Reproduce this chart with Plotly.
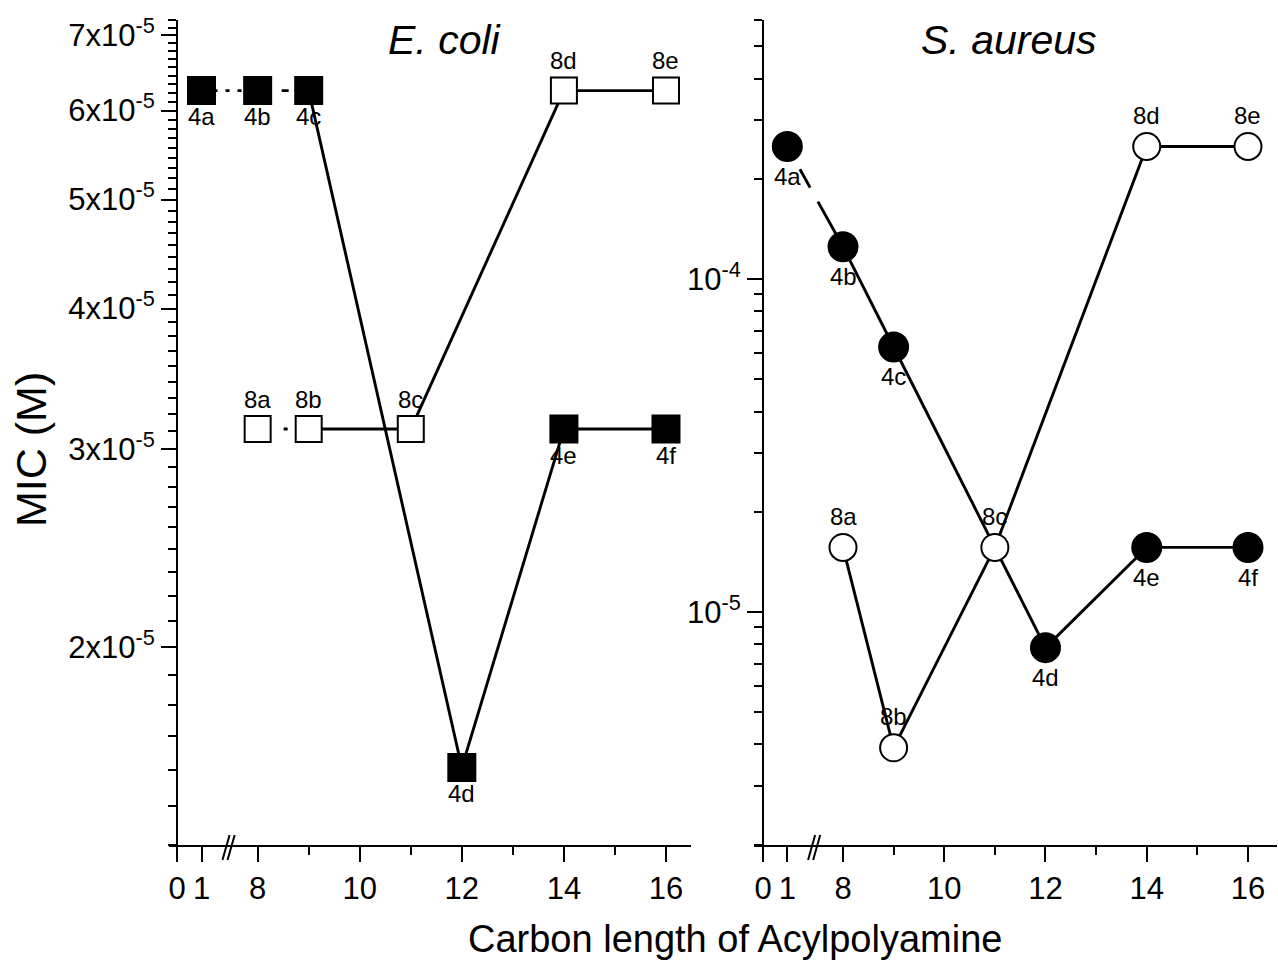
import plotly.graph_objects as go
import math

# ---------------- data ----------------
carbon_4 = [1, 8, 9, 12, 14, 16]
labels_4 = ["4a", "4b", "4c", "4d", "4e", "4f"]
carbon_8 = [8, 9, 11, 14, 16]
labels_8 = ["8a", "8b", "8c", "8d", "8e"]

ecoli_4 = [6.25e-5, 6.25e-5, 6.25e-5, 1.5625e-5, 3.125e-5, 3.125e-5]
ecoli_8 = [3.125e-5, 3.125e-5, 3.125e-5, 6.25e-5, 6.25e-5]
saureus_4 = [2.5e-4, 1.25e-4, 6.25e-5, 7.8125e-6, 1.5625e-5, 1.5625e-5]
saureus_8 = [1.5625e-5, 3.90625e-6, 1.5625e-5, 2.5e-4, 2.5e-4]

x_tick_carbon = [0, 1, 8, 10, 12, 14, 16]
x_tick_text = ["0", "1", "8", "10", "12", "14", "16"]
x_minor_carbon = [9, 11, 13, 15]

ecoli_yticks = [2e-5, 3e-5, 4e-5, 5e-5, 6e-5, 7e-5]
ecoli_yticktext = ["2x10<sup>-5</sup>", "3x10<sup>-5</sup>", "4x10<sup>-5</sup>",
                   "5x10<sup>-5</sup>", "6x10<sup>-5</sup>", "7x10<sup>-5</sup>"]
saureus_yticks = [1e-5, 1e-4]
saureus_yticktext = ["10<sup>-5</sup>", "10<sup>-4</sup>"]

# segment line styles (style only)
ecoli_4_dash = ["4px,8px", "0px,24px,7px,40px", "solid", "solid", "solid"]
ecoli_8_dash = ["4px,22px", "solid", "solid", "solid"]
saureus_4_dash = ["0px,26px,21px,16px,40px", "solid", "solid", "solid", "solid"]
saureus_8_dash = ["solid", "solid", "solid", "solid"]

FONT = "Liberation Sans, Arial, sans-serif"
W, H = 1278, 960


# broken x axis: 0-1 compressed segment, then 8-16 linear
def pos(c):
    return c if c >= 8 else 6.9 - 0.48 * (1 - c)


BREAK_POS = 7.43

# minor ticks
ecoli_minor = [m / 9 * 1e-5 for m in range(12, 66) if m % 9 != 0]
saureus_minor = []
for e in (-6, -5, -4):
    for k in range(2, 10):
        saureus_minor.append(k * 10 ** e)

fig = go.Figure()


def add_panel(xs, ys, dashes, xa, ya):
    for i in range(len(xs) - 1):
        fig.add_trace(go.Scatter(
            x=[pos(xs[i]), pos(xs[i + 1])], y=[ys[i], ys[i + 1]],
            mode="lines", line=dict(color="black", width=2.9, dash=dashes[i]),
            xaxis=xa, yaxis=ya, showlegend=False, hoverinfo="skip"))


add_panel(carbon_4, ecoli_4, ecoli_4_dash, "x", "y")
add_panel(carbon_8, ecoli_8, ecoli_8_dash, "x", "y")
add_panel(carbon_4, saureus_4, saureus_4_dash, "x2", "y2")
add_panel(carbon_8, saureus_8, saureus_8_dash, "x2", "y2")


def add_markers(xs, ys, symbol, size, fill, xa, ya):
    fig.add_trace(go.Scatter(
        x=[pos(c) for c in xs], y=ys, mode="markers",
        marker=dict(symbol=symbol, size=size, color=fill,
                    line=dict(color="black", width=2)),
        xaxis=xa, yaxis=ya, showlegend=False, hoverinfo="skip"))


add_markers(carbon_8, ecoli_8, "square", 26, "white", "x", "y")
add_markers(carbon_4, ecoli_4, "square", 27, "black", "x", "y")
add_markers(carbon_8, saureus_8, "circle", 27, "white", "x2", "y2")
add_markers(carbon_4, saureus_4, "circle", 29, "black", "x2", "y2")

annotations = []


def add_labels(xs, ys, labels, xref, yref, shift):
    for c, v, t in zip(xs, ys, labels):
        annotations.append(dict(
            x=pos(c), y=math.log10(v), xref=xref, yref=yref, text=t,
            showarrow=False, yshift=shift, xanchor="center", yanchor="middle",
            font=dict(family=FONT, size=24, color="black")))


add_labels(carbon_4, ecoli_4, labels_4, "x", "y", -26)
add_labels(carbon_8, ecoli_8, labels_8, "x", "y", 30)
add_labels(carbon_4, saureus_4, labels_4, "x2", "y2", -30)
add_labels(carbon_8, saureus_8, labels_8, "x2", "y2", 31)


def paper_text(x, y, text, size, angle=0):
    return dict(x=x / W, y=1 - y / H, xref="paper", yref="paper", text=text,
                showarrow=False, xanchor="center", yanchor="middle", textangle=angle,
                font=dict(family=FONT, size=size, color="black"))


annotations += [
    paper_text(445, 40, "<i>E. coli</i>", 41),
    paper_text(1009, 40, "<i>S. aureus</i>", 41),
    paper_text(735, 939, "Carbon length of Acylpolyamine", 38),
    paper_text(31, 450, "MIC (M)", 43, -90),
]

# axis break marks
shapes = []
for xr in ("x", "x2"):
    for off in (-0.05, 0.05):
        shapes.append(dict(type="line", xref=xr, yref="paper",
                           x0=BREAK_POS + off - 0.07, x1=BREAK_POS + off + 0.07,
                           y0=1 - 860 / H, y1=1 - 835 / H,
                           line=dict(color="black", width=2)))

ydom = [1 - 845 / H, 1 - 20 / H]
tickfont = dict(family=FONT, size=31, color="black")

common_x = dict(
    tickmode="array", tickvals=[pos(c) for c in x_tick_carbon], ticktext=x_tick_text,
    ticks="outside", ticklen=15, tickwidth=2, tickcolor="black",
    showline=True, linecolor="black", linewidth=2, showgrid=False, zeroline=False,
    tickfont=tickfont, automargin=False,
    minor=dict(tickmode="array", tickvals=x_minor_carbon, ticks="outside",
               ticklen=8, tickwidth=2, tickcolor="black", showgrid=False),
)
common_y = dict(
    type="log", ticks="outside", ticklen=15, tickwidth=2, tickcolor="black",
    showline=True, linecolor="black", linewidth=2, showgrid=False, zeroline=False,
    tickfont=tickfont, automargin=False, domain=ydom, anchor="free",
)

fig.update_layout(
    width=W, height=H, margin=dict(l=0, r=0, t=0, b=0),
    paper_bgcolor="white", plot_bgcolor="white", showlegend=False,
    xaxis=dict(common_x, domain=[169 / W, 691 / W], range=[6.263, 16.49], anchor="y"),
    xaxis2=dict(common_x, domain=[754 / W, 1277 / W], range=[6.242, 16.573], anchor="y2"),
    yaxis=dict(common_y, position=177 / W,
               range=[math.log10(1.3333e-5), math.log10(7.2222e-5)],
               tickmode="array", tickvals=ecoli_yticks, ticktext=ecoli_yticktext,
               minor=dict(tickmode="array", tickvals=ecoli_minor, ticks="outside",
                          ticklen=8, tickwidth=2, tickcolor="black", showgrid=False)),
    yaxis2=dict(common_y, position=763 / W, range=[-5.700, -3.222],
                tickmode="array", tickvals=saureus_yticks, ticktext=saureus_yticktext,
                minor=dict(tickmode="array", tickvals=saureus_minor, ticks="outside",
                           ticklen=8, tickwidth=2, tickcolor="black", showgrid=False)),
    annotations=annotations, shapes=shapes,
)

fig.write_html("out.html",
               config={"displayModeBar": False},
               post_script="document.body.style.margin='0px';"
                           "document.body.style.overflow='hidden';")
